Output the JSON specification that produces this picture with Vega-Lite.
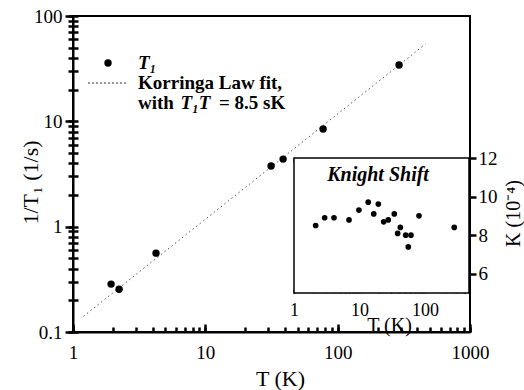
{
  "$schema": "https://vega.github.io/schema/vega-lite/v6.json",
  "width": 397,
  "height": 316,
  "autosize": {"type": "none"},
  "padding": {"left": 73, "top": 16, "right": 54, "bottom": 58},
  "background": "white",
  "config": {
    "font": "Liberation Serif",
    "view": {"stroke": "black", "strokeWidth": 2}
  },
  "datasets": {
    "t1": [
      {"T": 1.94, "R": 0.285}, {"T": 2.23, "R": 0.255}, {"T": 4.24, "R": 0.561},
      {"T": 31.4, "R": 3.76}, {"T": 38.7, "R": 4.38}, {"T": 77.6, "R": 8.45}, {"T": 291, "R": 34.3}
    ],
    "fit": [{"T": 1.2, "R": 0.141}, {"T": 460, "R": 54.1}],
    "knight": [
      {"T": 2.14, "K": 8.5}, {"T": 2.94, "K": 8.9}, {"T": 4.08, "K": 8.9}, {"T": 6.92, "K": 8.79},
      {"T": 9.8, "K": 9.3}, {"T": 13.6, "K": 9.71}, {"T": 16.5, "K": 9.1}, {"T": 19.4, "K": 9.61},
      {"T": 23.4, "K": 8.69}, {"T": 27.5, "K": 8.79}, {"T": 34, "K": 9.1}, {"T": 38.3, "K": 8.09},
      {"T": 42, "K": 8.4}, {"T": 50.7, "K": 8.0}, {"T": 61.1, "K": 8.0}, {"T": 55.6, "K": 7.39},
      {"T": 81, "K": 9.0}, {"T": 280, "K": 8.4}
    ]
  },
  "layer": [
    {
      "data": {"name": "fit"},
      "mark": {"type": "line", "color": "#555", "strokeWidth": 1, "strokeDash": [1.5, 3]},
      "encoding": {
        "x": {"field": "T", "type": "quantitative", "scale": {"type": "log", "domain": [1, 1000], "nice": false},
          "axis": {"orient": "bottom", "values": [1,2,3,4,5,6,7,8,9,10,20,30,40,50,60,70,80,90,100,200,300,400,500,600,700,800,900,1000],
            "tickSize": -5, "tickColor": "#000", "tickWidth": 2.5, "labelExpr": "''", "domain": false, "title": "", "grid": false}},
        "y": {"field": "R", "type": "quantitative", "scale": {"type": "log", "domain": [0.1, 100], "nice": false},
          "axis": {"orient": "left", "values": [0.1,0.2,0.3,0.4,0.5,0.6,0.7,0.8,0.9,1,2,3,4,5,6,7,8,9,10,20,30,40,50,60,70,80,90,100],
            "tickSize": -5, "tickColor": "#000", "tickWidth": 2.5, "labelExpr": "''", "domain": false, "title": "", "grid": false}}
      }
    },
    {
      "data": {"name": "t1"},
      "mark": {"type": "point", "filled": true, "color": "black", "opacity": 1, "size": 55},
      "encoding": {
        "x": {"field": "T", "type": "quantitative", "scale": {"type": "log", "domain": [1, 1000], "nice": false},
          "axis": {"orient": "bottom", "values": [1, 10, 100, 1000], "ticks": false, "tickSize": 0, "labelPadding": 11,
            "labelExpr": "'' + datum.value", "labelFlush": false, "labelOverlap": false, "labelFontSize": 19,
            "domainColor": "black", "domainWidth": 2, "grid": false,
            "title": "T (K)", "titleFontSize": 22, "titleFontWeight": "normal", "titleX": 207, "titleY": 46, "titleBaseline": "middle", "titleAlign": "center"}},
        "y": {"field": "R", "type": "quantitative", "scale": {"type": "log", "domain": [0.1, 100], "nice": false},
          "axis": {"orient": "left", "values": [0.1, 1, 10, 100], "ticks": false, "tickSize": 0, "labelPadding": 11,
            "labelExpr": "'' + datum.value", "labelFlush": false, "labelOverlap": false, "labelFontSize": 19,
            "domainColor": "black", "domainWidth": 2, "grid": false,
            "title": "1/T₁ (1/s)", "titleFontSize": 22, "titleFontWeight": "normal", "titleX": -43, "titleY": 166, "titleBaseline": "middle", "titleAlign": "center", "titleAngle": 270}}
      }
    },
    {
      "data": {"values": [{"T": 1.839, "R": 35.8}]},
      "mark": {"type": "point", "filled": true, "color": "black", "opacity": 1, "size": 55},
      "encoding": {
        "x": {"field": "T", "type": "quantitative", "scale": {"type": "log", "domain": [1, 1000], "nice": false},
          "axis": {"orient": "bottom", "values": [1, 10, 100, 1000], "tickSize": -8, "tickColor": "#000", "tickWidth": 2.5, "labelExpr": "''", "domain": false, "title": "", "grid": false}},
        "y": {"field": "R", "type": "quantitative", "scale": {"type": "log", "domain": [0.1, 100], "nice": false},
          "axis": {"orient": "left", "values": [0.1,0.2,0.3,0.4,0.5,0.6,0.7,0.8,0.9,1,2,3,4,5,6,7,8,9,10,20,30,40,50,60,70,80,90,100],
            "tickSize": 5, "tickColor": "#000", "tickWidth": 2.5, "labelExpr": "''", "domain": false, "title": "", "grid": false}}
      }
    },
    {
      "data": {"values": [{"T": 1.298, "R": 23.1}, {"T": 2.559, "R": 23.1}]},
      "mark": {"type": "line", "color": "#333", "strokeWidth": 1, "strokeDash": [2, 2]},
      "encoding": {
        "x": {"field": "T", "type": "quantitative", "scale": {"type": "log", "domain": [1, 1000], "nice": false}, "axis": null},
        "y": {"field": "R", "type": "quantitative", "scale": {"type": "log", "domain": [0.1, 100], "nice": false},
          "axis": {"orient": "left", "values": [0.1, 1, 10, 100], "tickSize": 8, "tickColor": "#000", "tickWidth": 2.5, "labelExpr": "''", "domain": false, "title": "", "grid": false}}
      }
    },
    {
      "data": {"values": [
        {"T": 3.10, "R": 23.1, "label": "Korringa Law fit,"},
        {"T": 3.10, "R": 14.93, "label": "with"},
        {"T": 12.69, "R": 14.93, "label": "= 8.5 sK"}
      ]},
      "mark": {"type": "text", "align": "left", "baseline": "middle", "fontSize": 19, "fontWeight": "bold", "color": "black"},
      "encoding": {
        "x": {"field": "T", "type": "quantitative", "scale": {"type": "log", "domain": [1, 1000], "nice": false}, "axis": null},
        "y": {"field": "R", "type": "quantitative", "scale": {"type": "log", "domain": [0.1, 100], "nice": false}, "axis": null},
        "text": {"field": "label"}
      }
    },
    {
      "data": {"values": [
        {"T": 3.10, "R": 35.8, "label": "T₁"},
        {"T": 6.5, "R": 14.93, "label": "T₁T"}
      ]},
      "mark": {"type": "text", "align": "left", "baseline": "middle", "fontSize": 19, "fontWeight": "bold", "fontStyle": "italic", "color": "black"},
      "encoding": {
        "x": {"field": "T", "type": "quantitative", "scale": {"type": "log", "domain": [1, 1000], "nice": false}, "axis": null},
        "y": {"field": "R", "type": "quantitative", "scale": {"type": "log", "domain": [0.1, 100], "nice": false}, "axis": null},
        "text": {"field": "label"}
      }
    },
    {
      "data": {"values": [{"T0": 1, "T1": 470, "K0": 5, "K1": 12}]},
      "mark": {"type": "rect", "fill": "white", "stroke": "black", "strokeWidth": 1.5},
      "encoding": {
        "x": {"field": "T0", "type": "quantitative", "scale": {"type": "log", "domain": [1, 470], "range": [221, 396], "nice": false},
          "axis": {"orient": "bottom", "offset": -39, "values": [1,2,3,4,5,6,7,8,9,10,20,30,40,50,60,70,80,90,100,200,300,400],
            "tickSize": -4, "tickColor": "#000", "tickWidth": 2, "labelExpr": "''", "domain": false, "title": "", "grid": false}},
        "x2": {"field": "T1"},
        "y": {"field": "K0", "type": "quantitative", "scale": {"type": "linear", "domain": [5, 12], "range": [277, 142], "nice": false, "zero": false},
          "axis": {"orient": "right", "values": [6, 8, 10, 12], "tickSize": 6, "tickColor": "#000", "tickWidth": 2.5, "labelExpr": "''", "domain": false, "title": "", "grid": false}},
        "y2": {"field": "K1"}
      }
    },
    {
      "data": {"values": [{"T": 19.2, "K": 11.12, "label": "Knight Shift"}]},
      "mark": {"type": "text", "align": "center", "baseline": "middle", "fontSize": 20, "fontWeight": "bold", "fontStyle": "italic", "color": "black"},
      "encoding": {
        "x": {"field": "T", "type": "quantitative", "scale": {"type": "log", "domain": [1, 470], "range": [221, 396], "nice": false},
          "axis": {"orient": "top", "offset": -142, "values": [1,2,3,4,5,6,7,8,9,10,20,30,40,50,60,70,80,90,100,200,300,400],
            "tickSize": -4, "tickColor": "#000", "tickWidth": 2, "labelExpr": "''", "domain": false, "title": "", "grid": false}},
        "y": {"field": "K", "type": "quantitative", "scale": {"type": "linear", "domain": [5, 12], "range": [277, 142], "nice": false, "zero": false}, "axis": null},
        "text": {"field": "label"}
      }
    },
    {
      "data": {"name": "knight"},
      "mark": {"type": "point", "filled": true, "color": "black", "opacity": 1, "size": 32},
      "encoding": {
        "x": {"field": "T", "type": "quantitative", "scale": {"type": "log", "domain": [1, 470], "range": [221, 396], "nice": false},
          "axis": {"orient": "bottom", "offset": -39, "values": [1, 10, 100], "ticks": false, "tickSize": 0, "labelPadding": 8,
            "labelExpr": "'' + datum.value", "labelFlush": false, "labelOverlap": false, "labelFontSize": 18, "domain": false, "grid": false,
            "title": "T (K)", "titleFontSize": 20, "titleFontWeight": "normal", "titleX": 316, "titleY": 32, "titleBaseline": "middle", "titleAlign": "center"}},
        "y": {"field": "K", "type": "quantitative", "scale": {"type": "linear", "domain": [5, 12], "range": [277, 142], "nice": false, "zero": false},
          "axis": {"orient": "right", "values": [6, 8, 10, 12], "ticks": false, "tickSize": 0, "labelPadding": 8, "labelFlush": false, "labelOverlap": false,
            "labelFontSize": 19, "domain": false, "grid": false,
            "title": "K (10⁻⁴)", "titleFontSize": 20, "titleFontWeight": "normal", "titleX": 43, "titleY": 197, "titleBaseline": "middle", "titleAlign": "center", "titleAngle": 270}}
      }
    }
  ],
  "resolve": {"scale": {"x": "independent", "y": "independent"}, "axis": {"x": "independent", "y": "independent"}}
}
